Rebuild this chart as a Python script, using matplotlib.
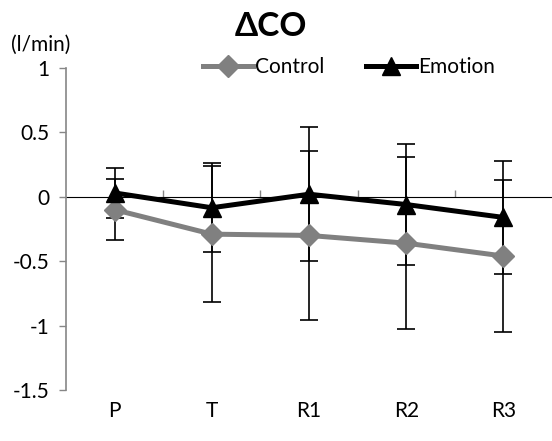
import matplotlib
matplotlib.use("Agg")
import matplotlib.pyplot as plt

# data
categories = ["P", "T", "R1", "R2", "R3"]
control_mean = [-0.10, -0.29, -0.30, -0.36, -0.46]
control_err = [0.235, 0.53, 0.655, 0.67, 0.59]
emotion_mean = [0.03, -0.085, 0.02, -0.06, -0.16]
emotion_err = [0.195, 0.345, 0.52, 0.47, 0.44]
y_ticks = [1, 0.5, 0, -0.5, -1, -1.5]
y_tick_labels = ["1", "0.5", "0", "-0.5", "-1", "-1.5"]

plt.rcParams["font.family"] = ["Lato", "DejaVu Sans"]

GRAY = "#808080"
AXIS_GRAY = "#868686"

fig = plt.figure(figsize=(5.52, 4.41), dpi=100)
ax = fig.add_axes([66 / 552, 1 - 390 / 441, 1 - 66 / 552, (390 - 68) / 441])

x = list(range(len(categories)))

# error bars (thin black with caps)
ax.errorbar(x, control_mean, yerr=control_err, fmt="none", ecolor="black",
            elinewidth=1.2, capsize=6.5, capthick=1.2, zorder=2)
ax.errorbar(x, emotion_mean, yerr=emotion_err, fmt="none", ecolor="black",
            elinewidth=1.2, capsize=6.5, capthick=1.2, zorder=2)

ax.plot(x, control_mean, color=GRAY, lw=3.6, marker="D", ms=11.5,
        mec=GRAY, mfc=GRAY, label="Control", zorder=3)
ax.plot(x, emotion_mean, color="black", lw=3.6, marker="^", ms=13,
        mec="black", mfc="black", label="Emotion", zorder=4)

ax.set_xlim(-0.5, len(categories) - 0.5)
ax.set_ylim(-1.5, 1)

# y axis
ax.set_yticks(y_ticks)
ax.set_yticklabels(y_tick_labels, fontsize=15)
ax.tick_params(axis="y", direction="out", length=5, width=1, color=AXIS_GRAY, pad=7)
for side in ["top", "right", "bottom"]:
    ax.spines[side].set_visible(False)
ax.spines["left"].set_color(AXIS_GRAY)
ax.spines["left"].set_linewidth(1.2)

# category labels sit below the plot area
ax.set_xticks(x)
ax.set_xticklabels(categories, fontsize=15)
ax.tick_params(axis="x", length=0, pad=8)

# horizontal axis line crosses at zero, ticks between categories
sec = ax.secondary_xaxis(1.5 / 2.5)
sec.set_xticks([i + 0.5 for i in x[:-1]])
sec.set_xticklabels([])
sec.tick_params(direction="out", length=5, width=1, color=AXIS_GRAY)
sec.spines["bottom"].set_color(AXIS_GRAY)
sec.spines["bottom"].set_linewidth(1.2)

fig.text(271 / 552, 1 - 27 / 441, "ΔCO", fontsize=24, fontweight="bold",
         ha="center", va="center")
fig.text(41 / 552, 1 - 45 / 441, "(l/min)", fontsize=15, ha="center", va="center")

ax.legend(loc="center", bbox_to_anchor=(349 / 552, 1 - 67 / 441),
          bbox_transform=fig.transFigure, ncol=2, frameon=False, fontsize=15,
          handlelength=2.4, handletextpad=0.1, columnspacing=2.0,
          borderpad=0, borderaxespad=0)

fig.savefig("out.png", dpi=100)
